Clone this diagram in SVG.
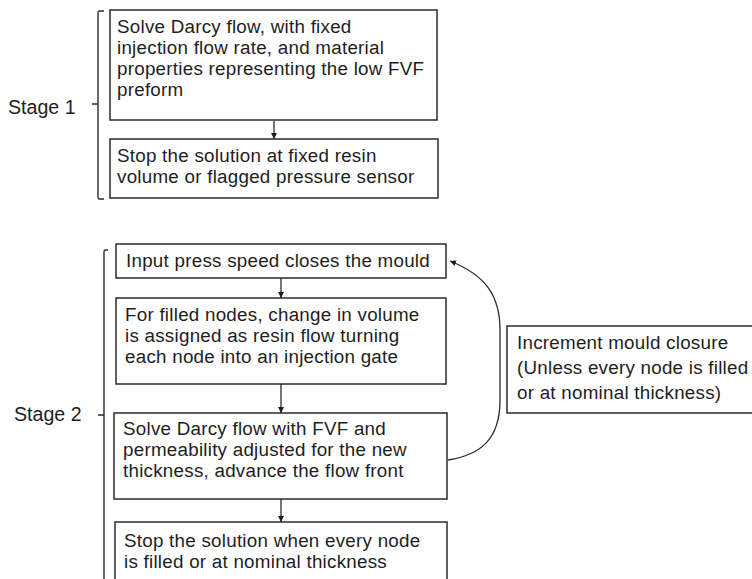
<svg xmlns="http://www.w3.org/2000/svg" width="752" height="579" viewBox="0 0 752 579">
  <style>
    .box { fill: #ffffff; stroke: #2b2b2b; stroke-width: 1.5; }
    .txt { font-family: "Liberation Sans", Arial, sans-serif; font-size: 18.8px; letter-spacing: 0.25px; fill: #1e1e1e; }
    .lbl { font-family: "Liberation Sans", Arial, sans-serif; font-size: 19.6px; fill: #1e1e1e; }
    .brace { fill: none; stroke: #2b2b2b; stroke-width: 1.4; }
    .link { fill: none; stroke: #2b2b2b; stroke-width: 1.3; marker-end: url(#head); }
  </style>
  <defs>
    <marker id="head" viewBox="0 0 10 10" refX="10" refY="5" markerWidth="6" markerHeight="6" markerUnits="userSpaceOnUse" orient="auto">
      <path d="M0,0 L10,5 L0,10 z" fill="#1e1e1e"/>
    </marker>
  </defs>
  <rect width="752" height="579" fill="#ffffff"/>

  <!-- stage brackets and labels -->
  <g id="stage1">
    <path class="brace" d="M104,11 L99,11 Q98,11 98,13 L98,197 Q98,199 99,199 L104,199 M92,104 L98,104"/>
    <text class="lbl" x="8" y="114">Stage 1</text>
  </g>
  <g id="stage2">
    <path class="brace" d="M108,250 L105,250 Q104,250 104,252 L104,579 M98,415 L104,415"/>
    <text class="lbl" x="14" y="421">Stage 2</text>
  </g>

  <!-- stage 1 steps -->
  <g id="s1-solve">
    <rect class="box" x="110" y="10" width="327" height="110"/>
    <text class="txt" x="117" y="33">Solve Darcy flow, with fixed</text>
    <text class="txt" x="117" y="54">injection flow rate, and material</text>
    <text class="txt" x="117" y="75">properties representing the low FVF</text>
    <text class="txt" x="117" y="96">preform</text>
  </g>
  <g id="s1-stop">
    <rect class="box" x="110" y="139" width="328" height="59"/>
    <text class="txt" x="117" y="162">Stop the solution at fixed resin</text>
    <text class="txt" x="117" y="183">volume or flagged pressure sensor</text>
  </g>

  <!-- stage 2 steps -->
  <g id="s2-press">
    <rect class="box" x="116" y="244" width="330" height="34"/>
    <text class="txt" x="126" y="267">Input press speed closes the mould</text>
  </g>
  <g id="s2-filled">
    <rect class="box" x="116" y="298" width="330" height="86"/>
    <text class="txt" x="125" y="321">For filled nodes, change in volume</text>
    <text class="txt" x="125" y="342">is assigned as resin flow turning</text>
    <text class="txt" x="125" y="363">each node into an injection gate</text>
  </g>
  <g id="s2-solve">
    <rect class="box" x="114" y="413" width="333" height="86"/>
    <text class="txt" x="123" y="435">Solve Darcy flow with FVF and</text>
    <text class="txt" x="123" y="456">permeability adjusted for the new</text>
    <text class="txt" x="123" y="477">thickness, advance the flow front</text>
  </g>
  <g id="s2-stop">
    <rect class="box" x="115" y="522" width="332" height="70"/>
    <text class="txt" x="124" y="547">Stop the solution when every node</text>
    <text class="txt" x="124" y="568">is filled or at nominal thickness</text>
  </g>
  <g id="increment">
    <rect class="box" x="507" y="326" width="250" height="87"/>
    <text class="txt" x="517" y="349">Increment mould closure</text>
    <text class="txt" x="517" y="374">(Unless every node is filled</text>
    <text class="txt" x="517" y="399">or at nominal thickness)</text>
  </g>

  <!-- connectors -->
  <g id="connectors">
    <path class="link" d="M274,121 L274,139"/>
    <path class="link" d="M281,278 L281,298"/>
    <path class="link" d="M281,384 L281,413"/>
    <path class="link" d="M281,499 L281,522"/>
    <path class="link" d="M448,460 C480,455 500,440 500,400 L500,330 C500,295 485,275 450,261"/>
  </g>
</svg>
